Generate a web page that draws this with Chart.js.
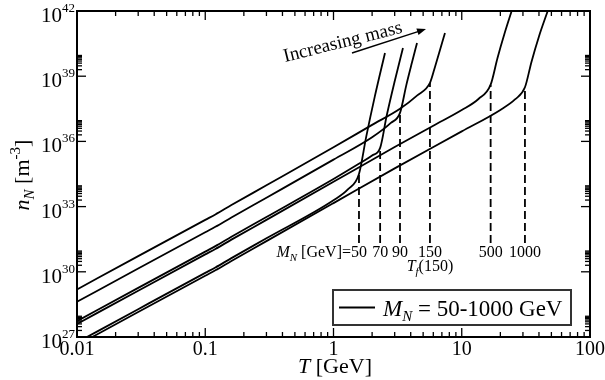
<!DOCTYPE html>
<html><head><meta charset="utf-8">
<script src="https://cdn.jsdelivr.net/npm/chart.js@4/dist/chart.umd.min.js"></script>
<style>html,body{margin:0;padding:0;background:#fff}#wrap{width:605px;height:380px;position:relative}</style>
</head><body><div id="wrap"><canvas id="c" width="605" height="380"></canvas></div>
<script>
// ---- data (T in GeV, n_N given as log10 of m^-3) ----
const masses = [50, 70, 90, 150, 500, 1000];
const freezeT = [1.58, 2.31, 3.30, 5.65, 16.8, 31.1];
const freezeLogN = [34.5, 35.70, 37.31, 38.69, 38.61, 38.49];
const dashBottomLogN = 31.32;

const T50 = [0.01, 0.03, 0.1, 0.12, 0.16, 0.3, 1, 1.3, 1.58, 1.8, 2.1, 2.52];
const logN50 = [26.75, 28.28, 29.95, 30.20, 30.63, 31.54, 33.29, 33.80, 34.5, 36.22, 38.07, 40.07];

const T70 = [0.01, 0.03, 0.1, 0.12, 0.16, 0.3, 1, 1.6, 2.0, 2.31, 2.6, 3.0, 3.48];
const logN70 = [27.73, 29.26, 30.93, 31.18, 31.61, 32.52, 34.27, 34.99, 35.35, 35.70, 37.19, 38.77, 40.30];

const T90 = [0.01, 0.03, 0.1, 0.12, 0.16, 0.3, 1, 2, 2.8, 3.3, 3.7, 4.1, 4.48];
const logN90 = [28.62, 30.15, 31.82, 32.07, 32.50, 33.41, 35.16, 36.19, 36.85, 37.31, 38.60, 39.65, 40.53];

const T150 = [0.01, 0.03, 0.1, 0.12, 0.16, 0.3, 1, 2, 3.3, 4.5, 5.65, 6.2, 6.8, 7.4];
const logN150 = [29.19, 30.72, 32.39, 32.64, 33.07, 33.98, 35.73, 36.76, 37.50, 38.12, 38.69, 39.45, 40.25, 40.99];

const T500 = [0.01, 0.03, 0.1, 0.12, 0.16, 0.3, 1, 3, 6, 10, 13.5, 16.8, 19, 21.5, 24.5];
const logN500 = [27.60, 29.13, 30.80, 31.05, 31.48, 32.39, 34.14, 35.74, 36.72, 37.44, 37.95, 38.61, 39.84, 40.94, 42.0];

const T1000 = [0.01, 0.03, 0.1, 0.12, 0.16, 0.3, 1, 3, 10, 20, 26, 31.1, 35, 40, 46.8];
const logN1000 = [26.62, 28.15, 29.82, 30.07, 30.50, 31.41, 33.16, 34.76, 36.46, 37.45, 37.93, 38.49, 39.67, 40.83, 42.0];

const xTickLabels = ['0.01', '0.1', '1', '10', '100'];
const xTickValues = [0.01, 0.1, 1, 10, 100];
const yTickExps = [27, 30, 33, 36, 39, 42];

// ---- build datasets ----
const curves = [[T50, logN50], [T70, logN70], [T90, logN90], [T150, logN150], [T500, logN500], [T1000, logN1000]];
const datasets = [];
curves.forEach(([T, L], i) => {
  datasets.push({
    label: 'M=' + masses[i],
    data: T.map((t, j) => ({x: t, y: Math.pow(10, L[j])})),
    borderColor: '#000', borderWidth: 1.8, pointRadius: 0, fill: false,
    cubicInterpolationMode: 'monotone'
  });
});
masses.forEach((m, i) => {
  datasets.push({
    label: 'Tf ' + m,
    data: [{x: freezeT[i], y: Math.pow(10, dashBottomLogN)}, {x: freezeT[i], y: Math.pow(10, freezeLogN[i])}],
    borderColor: '#000', borderWidth: 1.8, borderDash: [8, 4], pointRadius: 0, fill: false, tension: 0
  });
});

const SERIF = '"Liberation Serif", "DejaVu Serif", serif';

function drawParts(ctx, parts, x, y) {
  let cx = x;
  for (const [t, f, dy] of parts) {
    ctx.font = f;
    ctx.fillText(t, cx, y + dy);
    cx += ctx.measureText(t).width;
  }
  return cx;
}
function partsWidth(ctx, parts) {
  let w = 0;
  for (const [t, f] of parts) { ctx.font = f; w += ctx.measureText(t).width; }
  return w;
}

const deco = {
  id: 'deco',
  afterDatasetsDraw(chart) {
    const {ctx, chartArea: a, scales: {x, y}} = chart;
    ctx.save();
    ctx.fillStyle = '#000';
    ctx.strokeStyle = '#000';
    const seg = (x1, y1, x2, y2) => { ctx.beginPath(); ctx.moveTo(x1, y1); ctx.lineTo(x2, y2); ctx.stroke(); };

    // ticks
    ctx.lineWidth = 1.3;
    xTickValues.forEach((v, i) => {
      const p = x.getPixelForValue(v);
      seg(p, a.bottom, p, a.bottom - 9); seg(p, a.top, p, a.top + 9);
      if (i < xTickValues.length - 1) {
        for (let k = 2; k <= 9; k++) {
          const q = x.getPixelForValue(k * v);
          seg(q, a.bottom, q, a.bottom - 5); seg(q, a.top, q, a.top + 5);
        }
      }
    });
    yTickExps.forEach((e, i) => {
      const p = y.getPixelForValue(Math.pow(10, e));
      seg(a.left, p, a.left + 9, p); seg(a.right, p, a.right - 9, p);
      if (i < yTickExps.length - 1) {
        for (let k = 2; k <= 9; k++) {
          const q = y.getPixelForValue(k * Math.pow(10, e));
          seg(a.left, q, a.left + 5, q); seg(a.right, q, a.right - 5, q);
        }
      }
    });

    // frame
    ctx.lineWidth = 2;
    ctx.strokeRect(a.left, a.top, a.right - a.left, a.bottom - a.top);

    // x tick labels
    ctx.textBaseline = 'alphabetic';
    ctx.textAlign = 'center';
    ctx.font = '20px ' + SERIF;
    xTickValues.forEach((v, i) => {
      ctx.fillText(xTickLabels[i], x.getPixelForValue(v), a.bottom + 18);
    });
    // y tick labels 10^e
    ctx.textAlign = 'left';
    yTickExps.forEach(e => {
      const p = y.getPixelForValue(Math.pow(10, e));
      const parts = [['10', '21px ' + SERIF, 0], [String(e), '13px ' + SERIF, -10]];
      const w = partsWidth(ctx, parts);
      drawParts(ctx, parts, a.left - 2 - w, p + 11);
    });

    // axis titles
    {
      const parts = [['T', 'italic 22px ' + SERIF, 0], [' [GeV]', '22px ' + SERIF, 0]];
      const w = partsWidth(ctx, parts);
      drawParts(ctx, parts, 335 - w / 2, 373);
    }
    {
      ctx.save();
      ctx.translate(29, 175);
      ctx.rotate(-Math.PI / 2);
      const parts = [['n', 'italic 22px ' + SERIF, 0], ['N', 'italic 15px ' + SERIF, 5], [' [m', '22px ' + SERIF, 0], ['-3', '15px ' + SERIF, -9], [']', '22px ' + SERIF, 0]];
      const w = partsWidth(ctx, parts);
      drawParts(ctx, parts, -w / 2, 0);
      ctx.restore();
    }

    // freeze-out labels
    const labBase = 257;
    masses.forEach((m, i) => {
      ctx.textAlign = 'center';
      ctx.font = '16px ' + SERIF;
      ctx.fillText(String(m), x.getPixelForValue(freezeT[i]), labBase);
    });
    ctx.textAlign = 'left';
    {
      ctx.font = '16px ' + SERIF;
      const w50 = ctx.measureText(String(masses[0])).width;
      const left50 = x.getPixelForValue(freezeT[0]) - w50 / 2;
      const parts = [['M', 'italic 16px ' + SERIF, 0], ['N', 'italic 11px ' + SERIF, 4], [' [GeV]=', '16px ' + SERIF, 0]];
      const w = partsWidth(ctx, parts);
      drawParts(ctx, parts, left50 - w, labBase);
    }
    {
      const parts = [['T', 'italic 16px ' + SERIF, 0], ['f', 'italic 11px ' + SERIF, 4], ['(150)', '16px ' + SERIF, 0]];
      const w = partsWidth(ctx, parts);
      drawParts(ctx, parts, x.getPixelForValue(freezeT[3]) - w / 2, 271);
    }

    // "Increasing mass" + arrow
    ctx.save();
    ctx.translate(285, 62);
    ctx.rotate(-14 * Math.PI / 180);
    ctx.font = '19px ' + SERIF;
    ctx.fillText('Increasing mass', 0, 0);
    ctx.restore();
    {
      const x1 = 352, y1 = 53, x2 = 426, y2 = 29;
      const ang = Math.atan2(y2 - y1, x2 - x1);
      ctx.lineWidth = 1.5;
      seg(x1, y1, x2 - 6 * Math.cos(ang), y2 - 6 * Math.sin(ang));
      ctx.beginPath();
      ctx.moveTo(x2, y2);
      ctx.lineTo(x2 - 9 * Math.cos(ang) + 3.5 * Math.sin(ang), y2 - 9 * Math.sin(ang) - 3.5 * Math.cos(ang));
      ctx.lineTo(x2 - 9 * Math.cos(ang) - 3.5 * Math.sin(ang), y2 - 9 * Math.sin(ang) + 3.5 * Math.cos(ang));
      ctx.closePath();
      ctx.fill();
    }

    // legend box
    {
      const bx = 333, by = 290, bw = 238, bh = 35;
      ctx.fillStyle = '#fff';
      ctx.fillRect(bx, by, bw, bh);
      ctx.strokeStyle = '#333';
      ctx.lineWidth = 2;
      ctx.strokeRect(bx, by, bw, bh);
      ctx.strokeStyle = '#000';
      ctx.lineWidth = 1.8;
      seg(339, 307.5, 375, 307.5);
      ctx.fillStyle = '#000';
      const parts = [['M', 'italic 23px ' + SERIF, 0], ['N', 'italic 15px ' + SERIF, 5], [' = 50-1000 GeV', '23px ' + SERIF, 0]];
      drawParts(ctx, parts, 383, 316);
    }
    ctx.restore();
  }
};

new Chart(document.getElementById('c'), {
  type: 'line',
  data: {datasets},
  options: {
    responsive: false, animation: false, devicePixelRatio: 1,
    layout: {padding: {left: 77, right: 15, top: 11, bottom: 43}},
    plugins: {legend: {display: false}, tooltip: {enabled: false}},
    scales: {
      x: {type: 'logarithmic', min: 0.01, max: 100, display: false},
      y: {type: 'logarithmic', min: 1e27, max: 1e42, display: false}
    }
  },
  plugins: [deco]
});
</script>
</body></html>
